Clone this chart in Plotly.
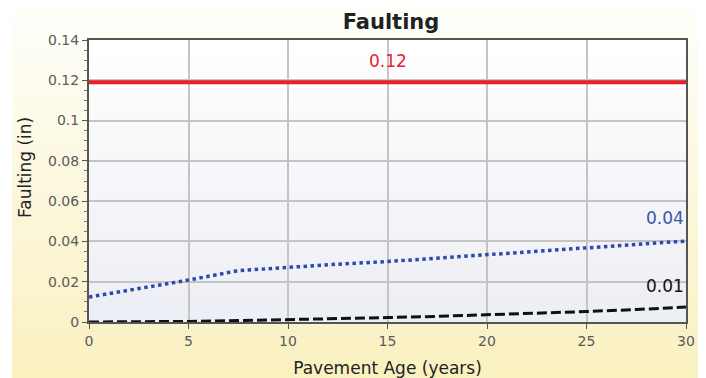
import plotly.graph_objects as go

# Data
years = [0, 2.5, 5, 7.5, 10, 12.5, 15, 17.5, 20, 22.5, 25, 27.5, 30]
blue_vals = [0.0124, 0.0165, 0.0208, 0.0255, 0.0272, 0.0287, 0.0300, 0.0316, 0.0333, 0.0350, 0.0368, 0.0385, 0.0402]
black_vals = [0.0000, 0.0000, 0.0003, 0.0007, 0.0011, 0.0016, 0.0022, 0.0028, 0.0035, 0.0043, 0.0052, 0.0062, 0.0074]
red_years = [0, 30]
red_vals = [0.119, 0.119]
label_red = "0.12"
label_blue = "0.04"
label_black = "0.01"
y_tickvals = [0, 0.02, 0.04, 0.06, 0.08, 0.1, 0.12, 0.14]
y_ticktext = ["0", "0.02", "0.04", "0.06", "0.08", "0.1", "0.12", "0.14"]

W, H = 698, 370
ML, MT, PW, PH = 81, 32, 597, 282

fig = go.Figure()

fig.add_trace(go.Scatter(x=red_years, y=red_vals, mode="lines",
                         line=dict(color="#e8202a", width=4), showlegend=False))
fig.add_trace(go.Scatter(x=years, y=blue_vals, mode="lines",
                         line=dict(color="#2d48b2", width=3.5, dash="dot"), showlegend=False))
fig.add_trace(go.Scatter(x=years, y=black_vals, mode="lines",
                         line=dict(color="#111111", width=3, dash="10px,4px"), showlegend=False))

# outer yellow gradient background via bands
n = 30
top = (255, 255, 250)
bot = (250, 241, 192)
y_top = 1 + MT / PH
y_bot = -(H - MT - PH) / PH
x_l = (4 - ML) / PW
x_r = (W - ML) / PW
for i in range(n):
    t = i / (n - 1)
    c = tuple(int(top[k] + (bot[k] - top[k]) * t) for k in range(3))
    fig.add_shape(type="rect", xref="paper", yref="paper", layer="below",
                  x0=x_l, x1=x_r,
                  y0=y_top - (i + 1) * (y_top - y_bot) / n,
                  y1=y_top - i * (y_top - y_bot) / n,
                  fillcolor="rgb(%d,%d,%d)" % c, line=dict(width=0))

# plot-area gradient (white -> light grey-blue)
m = 20
ptop = (255, 255, 255)
pbot = (236, 239, 245)
for i in range(m):
    t = i / (m - 1)
    c = tuple(int(ptop[k] + (pbot[k] - ptop[k]) * t) for k in range(3))
    fig.add_shape(type="rect", xref="x domain", yref="y domain", layer="below",
                  x0=0, x1=1, y0=1 - (i + 1) / m, y1=1 - i / m,
                  fillcolor="rgb(%d,%d,%d)" % c, line=dict(width=0))

fig.add_annotation(x=15, y=red_vals[0], text=label_red, showarrow=False, yshift=21,
                   font=dict(color="#e8202a", size=17, family="DejaVu Sans"))
fig.add_annotation(x=30, y=blue_vals[-1], text=label_blue, showarrow=False, xanchor="right",
                   yshift=23, font=dict(color="#3a55b0", size=17, family="DejaVu Sans"))
fig.add_annotation(x=30, y=black_vals[-1], text=label_black, showarrow=False, xanchor="right",
                   yshift=21, font=dict(color="#111111", size=17, family="DejaVu Sans"))

# y-axis title placed as rotated annotation (matches reference offset)
fig.add_annotation(xref="paper", yref="paper", x=(25 - 8 - ML) / PW, y=1 - (160 - MT) / PH,
                   text="Faulting (in)", textangle=-90, showarrow=False,
                   xanchor="center", yanchor="middle",
                   font=dict(size=17, color="#222222", family="DejaVu Sans"))

fig.update_layout(
    width=W, height=H,
    margin=dict(l=ML, r=W - ML - PW, t=MT, b=H - MT - PH, autoexpand=False),
    paper_bgcolor="#ffffff",
    plot_bgcolor="rgba(0,0,0,0)",
    title=dict(text="<b>Faulting</b>", x=(391 - 8) / W, xanchor="center",
               y=1 - 14 / H, yanchor="middle", yref="container",
               font=dict(size=21, color="#222222", family="DejaVu Sans")),
    font=dict(family="DejaVu Sans", color="#555555", size=14),
)
fig.update_xaxes(range=[0, 30], dtick=5, showgrid=True, gridcolor="#c4c4c4", gridwidth=1.5,
                 showline=True, linecolor="#555555", linewidth=2, mirror=True,
                 ticks="outside", ticklen=5, tickcolor="#555555", zeroline=False,
                 automargin=False,
                 title=dict(text="Pavement Age (years)", font=dict(size=17, color="#222222"), standoff=14),
                 tickfont=dict(size=14, color="#5a5a5a"))
fig.update_yaxes(range=[0, 0.14], tickvals=y_tickvals, ticktext=y_ticktext,
                 showgrid=True, gridcolor="#c4c4c4", gridwidth=1.5,
                 showline=True, linecolor="#555555", linewidth=2, mirror=True,
                 ticks="outside", ticklen=5, tickcolor="#555555", zeroline=False,
                 automargin=False,
                 minor=dict(dtick=0.005, ticks="outside", ticklen=3, tickcolor="#777777", showgrid=False),
                 tickfont=dict(size=14, color="#5a5a5a"))

fig.write_html("out.html")
